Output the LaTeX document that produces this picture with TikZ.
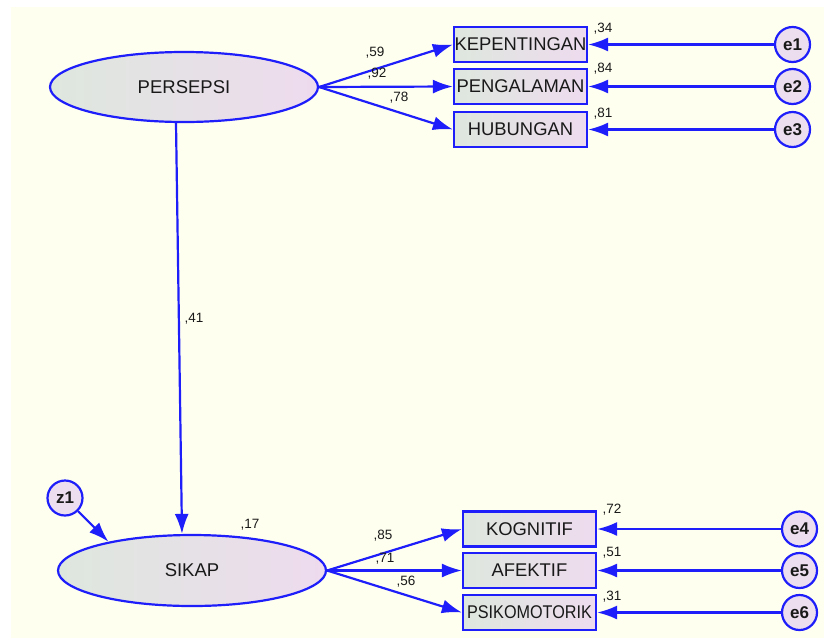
\documentclass[tikz,border=0pt]{standalone}
\usepackage{fontspec}
\setmainfont{Liberation Sans}
\usepackage{xcolor}
\usetikzlibrary{arrows.meta, shapes.geometric}

\definecolor{pathblue}{RGB}{30,30,250}
\definecolor{cream}{RGB}{255,255,240}
\definecolor{fillleft}{RGB}{222,231,222}
\definecolor{fillright}{RGB}{238,219,238}
\definecolor{errfill}{RGB}{236,222,238}
\definecolor{txt}{RGB}{25,25,25}

\begin{document}
\begin{tikzpicture}[x=1pt, y=-1pt, >={Latex[length=20pt,width=14pt]},
    latent/.style={ellipse, draw=pathblue, line width=2.2pt, left color=fillleft, right color=fillright,
        minimum width=268pt, minimum height=70pt, inner sep=0pt, text=txt, font=\fontsize{18.5}{20}\selectfont},
    indic/.style={rectangle, draw=pathblue, line width=2.2pt, left color=fillleft, right color=fillright,
        minimum width=133pt, minimum height=35pt, inner sep=0pt, text=txt, font=\fontsize{18.4}{20}\selectfont},
    err/.style={circle, draw=pathblue, line width=2.2pt, fill=errfill, minimum size=35pt, inner sep=0pt,
        text=txt, font=\fontsize{17}{18}\selectfont\bfseries},
    coef/.style={text=txt, inner sep=0pt, font=\fontsize{13.5}{14}\selectfont},
    path/.style={->, draw=pathblue, line width=2.2pt}]

    % canvas
    \fill[white] (0,0) rectangle (824,638);
    \fill[cream] (11,7) rectangle (824,638);

    % latent variables
    \node[latent] (persepsi) at (184,87) {PERSEPSI};
    \node[latent, minimum height=71pt] (sikap) at (192,570.5) {SIKAP};
    \node[err] (z1) at (65,498) {z1};

    % indicators of PERSEPSI
    \node[indic] (kepentingan) at (520.5,44.5) {KEPENTINGAN};
    \node[indic] (pengalaman) at (520.5,86.5) {PENGALAMAN};
    \node[indic] (hubungan) at (520.5,129.5) {HUBUNGAN};
    \node[err] (e1) at (792.5,44.5) {e1};
    \node[err] (e2) at (792.5,86.5) {e2};
    \node[err] (e3) at (792.5,129.5) {e3};

    % indicators of SIKAP
    \node[indic] (kognitif) at (529.5,529) {KOGNITIF};
    \node[indic] (afektif) at (529.5,570.5) {AFEKTIF};
    \node[indic] (psikomotorik) at (529.5,612.5) {\scalebox{0.88}[1]{PSIKOMOTORIK}};
    \node[err] (e4) at (799.5,529) {e4};
    \node[err] (e5) at (799.5,570.5) {e5};
    \node[err] (e6) at (799.5,612.5) {e6};

    % paths
    \draw[path] (persepsi.east) -- (kepentingan.west);
    \draw[path] (persepsi.east) -- (pengalaman.west);
    \draw[path] (persepsi.east) -- (hubungan.west);
    \draw[path] (e1) -- (kepentingan.east);
    \draw[path] (e2) -- (pengalaman.east);
    \draw[path] (e3) -- (hubungan.east);

    \draw[path] ([xshift=-8pt]persepsi.south) -- ([xshift=-10pt]sikap.north);
    \draw[path] (z1) -- (sikap.161);

    \draw[path] (sikap.east) -- (kognitif.west);
    \draw[path] (sikap.east) -- (afektif.west);
    \draw[path] (sikap.east) -- (psikomotorik.west);
    \draw[path] (e4) -- (kognitif.east);
    \draw[path] (e5) -- (afektif.east);
    \draw[path] (e6) -- (psikomotorik.east);

    % estimates
    \node[coef] (c59) at (375,53) {,59};
    \node[coef] (c92) at (377,74) {,92};
    \node[coef] (c78) at (399,98) {,78};
    \node[coef] (r34) at (603,29) {,34};
    \node[coef] (r84) at (603,69) {,84};
    \node[coef] (r81) at (603,114) {,81};
    \node[coef] (c41) at (194,319) {,41};
    \node[coef] (r17) at (250,525) {,17};
    \node[coef] (c85) at (383,536) {,85};
    \node[coef] (c71) at (385,559) {,71};
    \node[coef] (c56) at (406,582) {,56};
    \node[coef] (r72) at (612,510) {,72};
    \node[coef] (r51) at (612,553) {,51};
    \node[coef] (r31) at (612,597) {,31};
\end{tikzpicture}
\end{document}
